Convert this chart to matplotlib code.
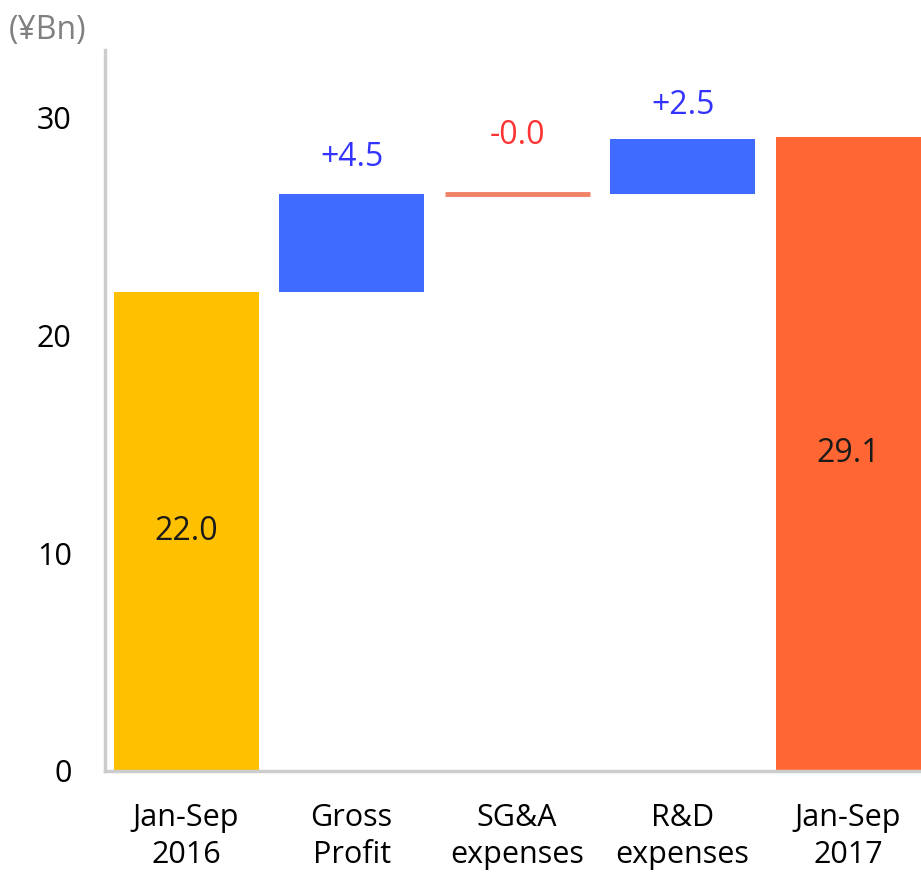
import matplotlib.pyplot as plt

plt.rcParams['font.family'] = ['Open Sans', 'DejaVu Sans']

categories = ["Jan-Sep\n2016", "Gross\nProfit", "SG&A\nexpenses", "R&D\nexpenses", "Jan-Sep\n2017"]
start_total = 22.0
changes = [4.5, -0.0, 2.5]
end_total = 29.1
change_labels = ["+4.5", "-0.0", "+2.5"]

c_start = "#FFC000"
c_end = "#FF6633"
c_up = "#3F6BFF"
c_down = "#F08266"

fig = plt.figure(figsize=(9.21, 8.74), dpi=100)
ax = fig.add_axes([0.114, 0.118, 0.886, 0.825])

width = 0.875
xs = list(range(len(categories)))

# totals
ax.bar(xs[0], start_total, width=width, color=c_start)
ax.bar(xs[-1], end_total, width=width, color=c_end)
ax.text(xs[0], start_total / 2, f"{start_total:.1f}", ha='center', va='center', fontsize=23, color='#1a1a1a')
ax.text(xs[-1], end_total / 2, f"{end_total:.1f}", ha='center', va='center', fontsize=23, color='#1a1a1a')

# floating steps
level = start_total
label_offsets = [26, 42, 24]
for i, (d, lab) in enumerate(zip(changes, change_labels)):
    x = xs[i + 1]
    if d > 0:
        ax.bar(x, d, bottom=level, width=width, color=c_up)
        tcol = "#3333FF"
    else:
        # near-zero change: edge makes it show up as a thin line
        ax.bar(x, d, bottom=level, width=width, color=c_down,
               edgecolor=c_down, linewidth=3.5)
        tcol = "#FF3333"
    top = max(level, level + d)
    ax.annotate(lab, (x, top), xytext=(0, label_offsets[i]), textcoords='offset points',
                ha='center', va='center', fontsize=23, color=tcol)
    level += d

ax.set_xlim(-0.49, 4.44)
ax.set_ylim(0, 33.1)
ax.set_yticks([0, 10, 20, 30])
ax.set_xticks(xs)
ax.set_xticklabels(categories, fontsize=22, linespacing=1.3)
ax.tick_params(axis='y', labelsize=22, length=0, pad=24)
ax.tick_params(axis='x', length=0, pad=23)

for s in ['top', 'right']:
    ax.spines[s].set_visible(False)
for s in ['left', 'bottom']:
    ax.spines[s].set_color('#CCCCCC')
    ax.spines[s].set_linewidth(2.5)

fig.text(0.010, 0.965, "(¥Bn)", fontsize=23, color='#808080', ha='left', va='center')

fig.savefig("out.png", dpi=100)
